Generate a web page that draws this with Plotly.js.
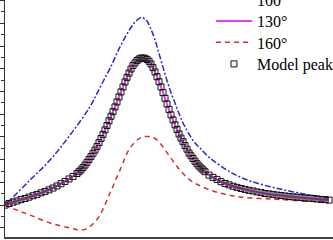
<!DOCTYPE html>
<html>
<head>
<meta charset="utf-8">
<script src="https://cdn.plot.ly/plotly-3.0.1.min.js"></script>
<style>html,body{margin:0;padding:0;background:#fff;}#chart{width:333px;height:240px;}</style>
</head>
<body>
<div id="chart"></div>
<script>
// Series names
const seriesNames = ["100°", "130°", "160°", "Model peak"];

// 100° series
const x100 = [0, 2.5, 12.5, 22.5, 32.5, 42.5, 47.5, 52.5, 57.5, 62.5, 65.5, 68, 70.5, 72.5, 75, 77.5, 80, 82.5, 85, 87.5, 90, 95, 97.5, 102.5, 112.5, 122.5, 137.5, 152.5, 162];
const y100 = [0.100, 0.122, 0.210, 0.298, 0.408, 0.533, 0.618, 0.702, 0.796, 0.875, 0.910, 0.926, 0.915, 0.884, 0.827, 0.752, 0.677, 0.607, 0.549, 0.492, 0.444, 0.373, 0.351, 0.307, 0.246, 0.206, 0.171, 0.144, 0.131];

// 130° series
const x130 = [0, 5, 10, 15, 20, 25, 30, 35, 40, 45, 50, 55, 60, 63, 66, 69, 72, 75, 78, 81, 84, 87, 92, 97, 102, 110, 120, 130, 140, 150, 162];
const y130 = [0.100, 0.116, 0.129, 0.144, 0.160, 0.180, 0.204, 0.232, 0.276, 0.342, 0.430, 0.532, 0.642, 0.699, 0.736, 0.747, 0.734, 0.686, 0.620, 0.545, 0.474, 0.413, 0.329, 0.272, 0.232, 0.195, 0.169, 0.151, 0.140, 0.131, 0.122];

// 160° series
const x160 = [0, 5, 12.5, 22.5, 32.5, 37.5, 40, 42.5, 45, 47.5, 52.5, 57.5, 62.5, 67.5, 71.5, 75, 77.5, 82.5, 87.5, 92.5, 100, 107.5, 117.5, 132.5, 147.5, 162];
const y160 = [0.100, 0.081, 0.056, 0.021, -0.001, -0.010, -0.007, 0.005, 0.027, 0.056, 0.153, 0.254, 0.351, 0.395, 0.402, 0.393, 0.373, 0.312, 0.254, 0.210, 0.175, 0.153, 0.136, 0.127, 0.119, 0.114];

// Model peak series
const xModel = [0, 2, 4, 6, 8, 10, 12, 14, 16, 18, 20, 22, 24, 26, 28, 30, 32, 34, 36, 37, 38, 39, 40, 41, 42, 43, 44, 45, 46, 47, 48, 49, 50, 51, 52, 53, 54, 55, 56, 57, 58, 59, 60, 61, 62, 63, 64, 65, 66, 67, 68, 69, 70, 71, 72, 73, 74, 75, 76, 77, 78, 79, 80, 81, 82, 83, 84, 85, 86, 87, 88, 89, 90, 91, 92, 93, 94, 95, 96, 97, 98, 99, 100, 102, 104, 106, 108, 110, 112, 114, 116, 118, 120, 122, 124, 126, 128, 130, 132, 134, 136, 138, 140, 142, 144, 146, 148, 150, 152, 154, 156, 158, 160, 162];
const yModel = [0.100, 0.107, 0.113, 0.118, 0.124, 0.129, 0.135, 0.141, 0.147, 0.154, 0.160, 0.167, 0.175, 0.184, 0.194, 0.204, 0.215, 0.226, 0.239, 0.247, 0.255, 0.265, 0.276, 0.288, 0.301, 0.314, 0.328, 0.342, 0.358, 0.375, 0.393, 0.411, 0.431, 0.450, 0.471, 0.491, 0.511, 0.532, 0.554, 0.576, 0.598, 0.620, 0.642, 0.662, 0.681, 0.699, 0.714, 0.726, 0.736, 0.743, 0.747, 0.747, 0.746, 0.741, 0.733, 0.721, 0.705, 0.686, 0.665, 0.643, 0.620, 0.595, 0.570, 0.545, 0.521, 0.497, 0.475, 0.453, 0.433, 0.413, 0.395, 0.379, 0.362, 0.346, 0.329, 0.317, 0.305, 0.293, 0.282, 0.272, 0.263, 0.255, 0.247, 0.232, 0.222, 0.213, 0.203, 0.195, 0.189, 0.183, 0.178, 0.173, 0.169, 0.165, 0.162, 0.158, 0.155, 0.151, 0.149, 0.147, 0.144, 0.142, 0.140, 0.138, 0.136, 0.135, 0.133, 0.131, 0.130, 0.129, 0.127, 0.125, 0.124, 0.122];

const traces = [
  {x: x100, y: y100, name: seriesNames[0], mode: "lines", type: "scatter", legend: "legend",
   line: {color: "rgb(40,40,205)", width: 1.5, dash: "6px,2px,2px,2px", shape: "spline"}},
  {x: x130, y: y130, name: seriesNames[1], mode: "lines", type: "scatter", legend: "legend2",
   line: {color: "rgb(235,60,235)", width: 2, shape: "spline"}},
  {x: x160, y: y160, name: seriesNames[2], mode: "lines", type: "scatter", legend: "legend3",
   line: {color: "rgb(220,45,45)", width: 1.5, dash: "5px,4px", shape: "spline"}},
  {x: xModel, y: yModel, name: seriesNames[3], mode: "markers", type: "scatter", legend: "legend4",
   marker: {symbol: "square-open", size: 6, color: "#111", line: {width: 1}}}
];

const legFont = {family: "Liberation Serif, Times New Roman, serif", size: 16, color: "#000"};
function leg(y) {
  return {x: 0.628, y: y, xanchor: "left", yanchor: "top", bgcolor: "rgba(0,0,0,0)",
          borderwidth: 0, itemwidth: 36, font: legFont};
}

const layout = {
  width: 333, height: 240,
  margin: {l: 5, r: 0, t: 0, b: 3, pad: 0, autoexpand: false},
  paper_bgcolor: "#fff", plot_bgcolor: "#fff",
  showlegend: true,
  legend: leg(1.0743),
  legend2: leg(0.9827),
  legend3: leg(0.8927),
  legend4: leg(0.8017),
  xaxis: {range: [0, 164], showgrid: false, zeroline: false, showticklabels: false,
          ticks: "", showline: true, linecolor: "#444", linewidth: 1.5, fixedrange: true},
  yaxis: {range: [-0.0405, 1.0026], showgrid: false, zeroline: false, showticklabels: false,
          dtick: 0.1, tick0: 0, ticks: "outside", ticklen: 5, tickwidth: 1, tickcolor: "#333",
          minor: {dtick: 0.05, ticks: "outside", ticklen: 3, tickwidth: 1, tickcolor: "#333"},
          showline: true, linecolor: "#333", linewidth: 1.5, fixedrange: true}
};

Plotly.newPlot("chart", traces, layout, {staticPlot: true, displayModeBar: false});
</script>
</body>
</html>
